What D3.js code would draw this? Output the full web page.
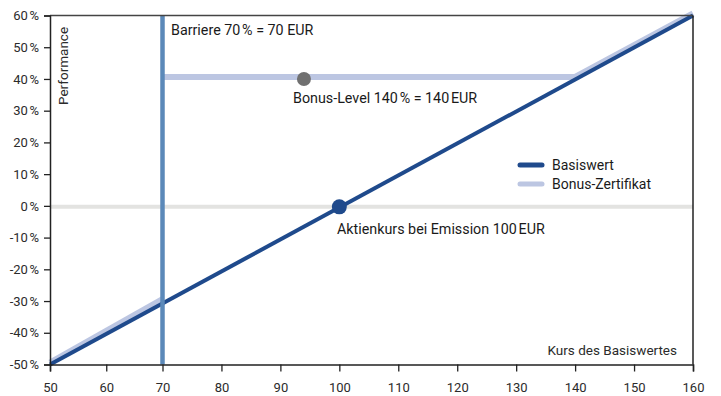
<!DOCTYPE html>
<html><head><meta charset="utf-8">
<script src="https://cdn.jsdelivr.net/npm/d3@7"></script>
<style>
html,body{margin:0;padding:0;background:#fff;}
text{font-family:Roboto,"Liberation Sans",sans-serif;fill:#2b2b2b;}
</style></head>
<body>
<svg id="c" width="721" height="396"></svg>
<script>
// ---- data ----
const xTicks = [50, 60, 70, 80, 90, 100, 110, 120, 130, 140, 150, 160];
const yTicks = [-50, -40, -30, -20, -10, 0, 10, 20, 30, 40, 50, 60];
const basisKurs = [50, 160];
const basisPerf = [-50, 60];
const bonusKursLow = [50, 70];
const bonusPerfLow = [-50, -30];
const bonusKursHigh = [70, 140, 160];
const bonusPerfHigh = [40, 40, 60];
const barrier = 70;
const bonusLevelPerf = 40;
const bonusDotKurs = 94;
const emissionKurs = 100;
const emissionPerf = 0;
const legendLabels = ["Basiswert", "Bonus-Zertifikat"];

const svg = d3.select("#c");
const x = d3.scaleLinear().domain([50, 70, 160]).range([50, 162.5, 693]);
const y = d3.scaleLinear().domain([-50, 60]).range([364.5, 15.5]);

const cDark = "#1f4a8c", cLight = "#bcc6e2", cBarrier = "#5b89b9";

// zero line
svg.append("line").attr("x1", x(50)).attr("x2", x(160)).attr("y1", y(0)+1).attr("y2", y(0)+1)
  .attr("stroke", "#e3e3e1").attr("stroke-width", 4);

const line = d3.line().x(d => x(d[0])).y(d => y(d[1]));

// bonus certificate
const bonusLow = d3.zip(bonusKursLow, bonusPerfLow);
const bonusHigh = d3.zip(bonusKursHigh, bonusPerfHigh);
const g = svg.append("g").attr("transform", "translate(0,-2)");
[bonusLow, bonusHigh].forEach(seg => {
  g.append("path").attr("d", line(seg)).attr("fill", "none")
    .attr("stroke", cLight).attr("stroke-width", 6);
});

// basiswert
svg.append("path").attr("d", line(d3.zip(basisKurs, basisPerf))).attr("fill", "none")
  .attr("stroke", cDark).attr("stroke-width", 4);

// barrier
svg.append("line").attr("x1", x(barrier)).attr("x2", x(barrier)).attr("y1", y(60)).attr("y2", y(-50))
  .attr("stroke", cBarrier).attr("stroke-width", 4.5);

// frame
svg.append("line").attr("x1", x(50)).attr("x2", x(160)).attr("y1", y(60)).attr("y2", y(60))
  .attr("stroke", "#444").attr("stroke-width", 1.5);
svg.append("line").attr("x1", x(160)).attr("x2", x(160)).attr("y1", y(60)).attr("y2", y(-50))
  .attr("stroke", "#222").attr("stroke-width", 1.5);

// axes
const fmtY = d => d + "\u202F%";
const yAxis = svg.append("g").attr("transform", `translate(${x(50)},0)`)
  .call(d3.axisLeft(y).tickValues(yTicks).tickFormat(fmtY).tickSize(6).tickPadding(5));
const xAxis = svg.append("g").attr("transform", `translate(0,${y(-50)})`)
  .call(d3.axisBottom(x).tickValues(xTicks).tickFormat(d3.format("d")).tickSize(7).tickPadding(11));
[yAxis, xAxis].forEach(a => {
  a.select(".domain").attr("stroke", "#222").attr("stroke-width", 1.5);
  a.selectAll(".tick line").attr("stroke", "#222").attr("stroke-width", 1.3);
  a.selectAll(".tick text").style("font-family", "Roboto, sans-serif").style("font-size", "13px").attr("fill", "#333");
});

// dots
svg.append("circle").attr("cx", x(bonusDotKurs)).attr("cy", y(bonusLevelPerf)).attr("r", 7).attr("fill", "#707070");
svg.append("circle").attr("cx", x(emissionKurs)).attr("cy", y(emissionPerf)+1).attr("r", 7.5).attr("fill", cDark);

// annotations
const ann = (t, xx, yy) => svg.append("text").attr("x", xx).attr("y", yy)
  .style("font-size", "14.3px").style("fill", "#1a1a1a").text(t);
ann("Barriere 70\u202F% = 70 EUR", x(barrier) + 8.5, 34.5);
ann("Bonus-Level 140\u202F% = 140\u202FEUR", 293, 103);
ann("Aktienkurs bei Emission 100\u202FEUR", 337, 233.5);

// axis titles
svg.append("text").attr("transform", "translate(68,105) rotate(-90)")
  .style("font-size", "13.5px").text("Performance");
svg.append("text").attr("x", 677).attr("y", 355).attr("text-anchor", "end")
  .style("font-size", "13.5px").text("Kurs des Basiswertes");

// legend
const leg = svg.append("g");
[cDark, cLight].forEach((c, i) => {
  leg.append("line").attr("x1", 520).attr("x2", 542).attr("y1", 165 + i * 19).attr("y2", 165 + i * 19)
    .attr("stroke", c).attr("stroke-width", 5).attr("stroke-linecap", "round");
  leg.append("text").attr("x", 552).attr("y", 170 + i * 19).style("font-size", "14px")
    .style("fill", "#1a1a1a").text(legendLabels[i]);
});
</script>
</body></html>
